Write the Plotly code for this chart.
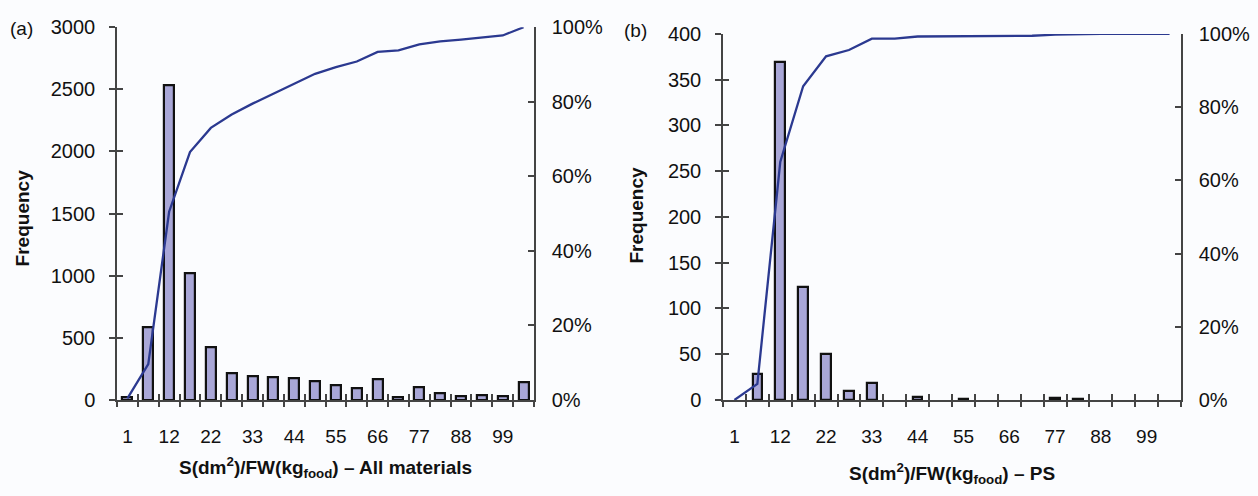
import plotly.graph_objects as go

W, H = 1258, 496

# Bin index (1..20); every other bin carries a label on the axis
bin_index = list(range(1, 21))
tick_positions = [1, 3, 5, 7, 9, 11, 13, 15, 17, 19]
tick_labels = ["1", "12", "22", "33", "44", "55", "66", "77", "88", "99"]

# (a) All materials: frequency per bin and cumulative share (%)
freq_all = [25, 585, 2533, 1020, 428, 218, 192, 185, 174, 149,
            115, 95, 167, 18, 103, 51, 26, 38, 31, 141]
cum_all = [0.4, 9.6, 50.5, 66.5, 73.0, 76.6, 79.5, 82.2, 85.0, 87.5,
           89.3, 90.8, 93.4, 93.8, 95.4, 96.2, 96.7, 97.3, 97.8, 100.0]

# (b) PS: frequency per bin and cumulative share (%)
freq_ps = [0, 28, 369, 124, 50, 10, 19, 0, 3, 0,
           1, 0, 0, 0, 2, 1, 0, 0, 0, 0]
cum_ps = [0.0, 4.4, 65.0, 85.7, 93.9, 95.6, 98.7, 98.7, 99.3, 99.3,
          99.5, 99.5, 99.5, 99.5, 99.8, 100.0, 100.0, 100.0, 100.0, 100.0]

BAR_FILL = "#A9A7D7"
LINE_COLOR = "#2B3990"
AXIS_COLOR = "#444444"
TEXT_COLOR = "#111111"
FONT = "Liberation Sans, Arial, Helvetica, sans-serif"
BG = "#FBFCFE"


def px_x(x):
    return x / W


def px_y(y):
    return 1 - y / H


fig = go.Figure()

# bar traces: zero counts are left undrawn
fig.add_trace(go.Bar(
    x=bin_index, y=[v if v else None for v in freq_all],
    xaxis="x", yaxis="y", width=0.48,
    marker=dict(color=BAR_FILL, line=dict(color="#111111", width=2.2)),
    showlegend=False, hoverinfo="x+y"))
fig.add_trace(go.Scatter(
    x=bin_index, y=cum_all, xaxis="x", yaxis="y3", mode="lines",
    line=dict(color=LINE_COLOR, width=2.3), showlegend=False))

fig.add_trace(go.Bar(
    x=bin_index, y=[v if v else None for v in freq_ps],
    xaxis="x4", yaxis="y4", width=0.42,
    marker=dict(color=BAR_FILL, line=dict(color="#111111", width=2.2)),
    showlegend=False, hoverinfo="x+y"))
fig.add_trace(go.Scatter(
    x=bin_index, y=cum_ps, xaxis="x4", yaxis="y6", mode="lines",
    line=dict(color=LINE_COLOR, width=2.3), showlegend=False))

# empty traces so the tick-only overlay axes get rendered
for xa, ya in (("x2", "y"), ("x3", "y"), ("x", "y2"),
               ("x5", "y4"), ("x6", "y4"), ("x4", "y5")):
    fig.add_trace(go.Scatter(x=[None], y=[None], xaxis=xa, yaxis=ya,
                             mode="lines", showlegend=False,
                             hoverinfo="skip"))

boundaries = [i + 0.5 for i in range(0, 21)]
xr = [0.5, 20.5]
TICK = dict(ticklen=6, tickwidth=1.5, tickcolor=AXIS_COLOR)


def panel_axes(xd, yd, ymax, ydtick, ids):
    xa, xb, xc, ya, yb, yc = ids
    axes = {}
    tickfont_x = dict(family=FONT, size=19, color=TEXT_COLOR)
    tickfont_y = dict(family=FONT, size=20, color=TEXT_COLOR)
    # category labels + baseline
    axes[f"xaxis{xa}"] = dict(
        domain=xd, range=xr, anchor=f"y{ya}", tickmode="array",
        tickvals=tick_positions, ticktext=tick_labels, ticks="",
        showline=True, linecolor=AXIS_COLOR, linewidth=1.5,
        showgrid=False, zeroline=False, tickfont=tickfont_x,
        ticklabelstandoff=19)
    # tick marks at bin boundaries, crossing the baseline
    for key, side in ((xb, "outside"), (xc, "inside")):
        axes[f"xaxis{key}"] = dict(
            domain=xd, range=xr, anchor=f"y{ya}", overlaying=f"x{xa}",
            tickmode="array", tickvals=boundaries,
            ticktext=[""] * len(boundaries), ticks=side, **TICK,
            showline=False, showgrid=False, zeroline=False)
    # frequency axis
    axes[f"yaxis{ya}"] = dict(
        domain=yd, range=[0, ymax], tickmode="linear", tick0=0,
        dtick=ydtick, anchor=f"x{xa}", ticks="outside", **TICK,
        showline=True, linecolor=AXIS_COLOR, linewidth=1.5,
        showgrid=False, zeroline=False, tickfont=tickfont_y,
        ticklabelstandoff=10)
    axes[f"yaxis{yb}"] = dict(
        domain=yd, range=[0, ymax], tickmode="linear", tick0=0,
        dtick=ydtick, anchor=f"x{xa}", overlaying=f"y{ya}",
        ticks="inside", **TICK, showticklabels=False, showline=False,
        showgrid=False, zeroline=False)
    # cumulative percentage axis
    axes[f"yaxis{yc}"] = dict(
        domain=yd, range=[0, 100], tickmode="linear", tick0=0, dtick=20,
        ticksuffix="%", anchor=f"x{xa}", overlaying=f"y{ya}", side="right",
        ticks="inside", **TICK,
        showline=True, linecolor=AXIS_COLOR, linewidth=1.5,
        showgrid=False, zeroline=False, tickfont=tickfont_y,
        ticklabelstandoff=12)
    return axes


layout_axes = {}
layout_axes.update(panel_axes([px_x(117), px_x(534)], [px_y(407), px_y(17)],
                              3000, 500, ("", 2, 3, "", 2, 3)))
layout_axes.update(panel_axes([px_x(723), px_x(1181)], [px_y(407), px_y(24)],
                              400, 50, (4, 5, 6, 4, 5, 6)))
fig.update_layout(**layout_axes)

title_font = dict(family=FONT, size=19, color=TEXT_COLOR)
annotations = [
    dict(text="(a)", x=px_x(21), y=px_y(18), showarrow=False,
         font=dict(family=FONT, size=19, color=TEXT_COLOR)),
    dict(text="(b)", x=px_x(635), y=px_y(20), showarrow=False,
         font=dict(family=FONT, size=19, color=TEXT_COLOR)),
    dict(text="<b>Frequency</b>", x=px_x(22), y=px_y(217), textangle=-90,
         showarrow=False, font=title_font),
    dict(text="<b>Frequency</b>", x=px_x(637), y=px_y(214), textangle=-90,
         showarrow=False, font=title_font),
    dict(text="<b>S(dm<sup>2</sup>)/FW(kg<sub>food</sub>) \u2013 All materials</b>",
         x=px_x(325), y=px_y(478), showarrow=False, font=title_font),
    dict(text="<b>S(dm<sup>2</sup>)/FW(kg<sub>food</sub>) \u2013 PS</b>",
         x=px_x(952), y=px_y(484), showarrow=False, font=title_font),
]
for a in annotations:
    a.update(xref="paper", yref="paper", xanchor="center", yanchor="middle")

fig.update_layout(
    width=W, height=H, margin=dict(l=0, r=0, t=0, b=0),
    paper_bgcolor=BG, plot_bgcolor=BG, bargap=0,
    annotations=annotations, showlegend=False,
)

fig.write_html("out.html", config={"displayModeBar": False})
